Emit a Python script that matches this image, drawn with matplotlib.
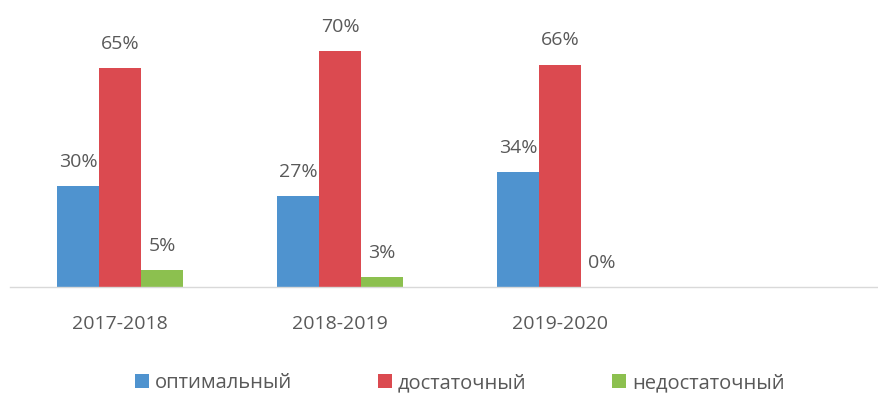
import matplotlib
matplotlib.use("Agg")
import matplotlib.pyplot as plt
import numpy as np
from matplotlib.patches import Patch

plt.rcParams['font.family'] = ['Open Sans', 'DejaVu Sans']

periods = ["2017-2018", "2018-2019", "2019-2020"]
series_names = ["оптимальный", "достаточный", "недостаточный"]
optimal = [30, 27, 34]
sufficient = [65, 70, 66]
insufficient = [5, 3, 0]
colors = ["#4f93cf", "#db4a50", "#8cc04f"]
text_color = "#595959"

W, H = 879, 397
fig = plt.figure(figsize=(W / 100, H / 100), dpi=100)
# axes spans from the baseline up to the top edge
ax = fig.add_axes([10 / W, 110 / H, (W - 10) / W, 287 / H])

values = [optimal, sufficient, insufficient]
x = np.arange(len(periods))
bw = 42 / 220
for i, (vals, c) in enumerate(zip(values, colors)):
    pos = x + (i - 1) * bw
    ax.bar(pos, vals, width=bw, color=c, linewidth=0)
    for xp, v in zip(pos, vals):
        ax.annotate(f"{v}%", (xp, v), xytext=(0, 11), textcoords="offset points",
                    ha="center", va="bottom", fontsize=14, color=text_color)

ax.set_xlim(-0.5, -0.5 + (W - 10) / 220)
ax.set_ylim(0, 287 / 3.37)
ax.set_xticks(x)
ax.set_xticklabels(periods, fontsize=14, color=text_color)
ax.tick_params(axis="x", length=0, pad=20)
ax.set_yticks([])
for s in ["top", "right", "left"]:
    ax.spines[s].set_visible(False)
ax.spines["bottom"].set_color("#d9d9d9")
ax.spines["bottom"].set_linewidth(1)

handles = [Patch(facecolor=c, edgecolor="none") for c in colors]
fig.legend(handles, series_names, loc="center", bbox_to_anchor=(460 / W, 1 - 383 / H),
           ncol=3, frameon=False, fontsize=14.5, labelcolor=text_color,
           handlelength=0.7, handleheight=0.7, handletextpad=0.3, columnspacing=4.25)

fig.savefig("out.png", dpi=100)
